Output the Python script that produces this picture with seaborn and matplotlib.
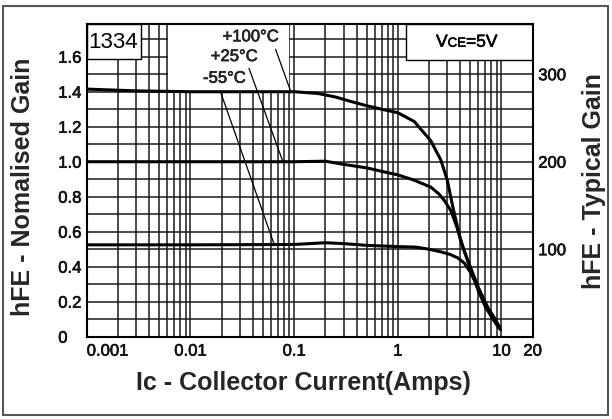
import numpy as np
import pandas as pd
import seaborn as sns
import matplotlib
matplotlib.use("Agg")
import matplotlib.pyplot as plt
import matplotlib.patheffects as pe
from matplotlib import font_manager
from matplotlib.patches import Rectangle
from matplotlib.offsetbox import TextArea, HPacker, AnnotationBbox

# ---------------- data ----------------
ic_100 = [0.001, 0.003, 0.01, 0.05, 0.1, 0.17, 0.25, 0.35, 0.5, 0.7, 1.0, 1.44, 2.08, 2.6, 3.0, 3.4, 4.0, 5.0, 6.0, 7.0, 8.5, 9.5]
hfe_100 = [1.415, 1.405, 1.40, 1.40, 1.40, 1.39, 1.37, 1.345, 1.32, 1.30, 1.28, 1.23, 1.12, 1.01, 0.895, 0.74, 0.56, 0.39, 0.26, 0.17, 0.09, 0.05]

ic_25 = [0.001, 0.01, 0.1, 0.2, 0.3, 0.5, 0.7, 1.0, 1.43, 2.08, 2.5, 2.8, 3.25, 3.7, 4.3, 5.0, 6.0, 7.5, 9.0, 9.8]
hfe_25 = [1.0, 1.0, 1.0, 1.003, 0.985, 0.965, 0.945, 0.925, 0.895, 0.855, 0.815, 0.78, 0.72, 0.63, 0.50, 0.40, 0.28, 0.15, 0.07, 0.04]

ic_m55 = [0.001, 0.01, 0.1, 0.2, 0.3, 0.5, 1.0, 1.5, 2.0, 2.6, 3.2, 3.8, 4.4, 5.0, 6.3, 7.5, 8.5, 9.8]
hfe_m55 = [0.525, 0.525, 0.527, 0.537, 0.532, 0.522, 0.515, 0.512, 0.50, 0.485, 0.47, 0.45, 0.42, 0.37, 0.25, 0.16, 0.11, 0.045]

series_names = ["+100°C", "+25°C", "-55°C"]
label_pos_x = [0.071, 0.0446, 0.0341]
label_pos_y = [1.714, 1.601, 1.477]
leader_start_x = [0.0664, 0.0367, 0.0195]
leader_start_y = [1.642, 1.534, 1.40]
leader_end_x = [0.093, 0.078, 0.064]
leader_end_y = [1.40, 1.0, 0.53]

x_ticks = [0.001, 0.01, 0.1, 1, 10, 20]
x_tick_labels = ["0.001", "0.01", "0.1", "1", "10", "20"]
y_ticks = [0, 0.2, 0.4, 0.6, 0.8, 1.0, 1.2, 1.4, 1.6]
y_tick_labels = ["0", "0.2", "0.4", "0.6", "0.8", "1.0", "1.2", "1.4", "1.6"]
y2_ticks = [100, 200, 300]
typical_per_normalised = 200

part_label = "1334"
# ---------------------------------------

sns.set_style("white")
plt.rcParams["font.family"] = ["Liberation Sans", "DejaVu Sans"]

heavy = [pe.withStroke(linewidth=0.45, foreground="#111111")]

fig = plt.figure(figsize=(6.12, 4.19), dpi=100)
ax = fig.add_axes([0.1417, 0.1964, 0.7287, 0.7463])

xmin, xmax = 0.001, 20
ymin, ymax = 0.0, 1.787

df = pd.concat([
    pd.DataFrame({"ic": ic_100, "hfe": hfe_100, "T": series_names[0]}),
    pd.DataFrame({"ic": ic_25, "hfe": hfe_25, "T": series_names[1]}),
    pd.DataFrame({"ic": ic_m55, "hfe": hfe_m55, "T": series_names[2]}),
])

ax.set_xscale("log")
sns.lineplot(data=df, x="ic", y="hfe", hue="T", palette=["black"] * 3,
             estimator=None, sort=True, legend=False, linewidth=2.2, ax=ax, zorder=4)

# ticks & grid
ax.set_xticks(x_ticks)
ax.set_xticklabels(x_tick_labels)
minor_x = [m * 10.0 ** d for d in range(-3, 1) for m in range(2, 10)]
ax.set_xticks(minor_x, minor=True)
ax.set_yticks(y_ticks)
ax.set_yticklabels(y_tick_labels)
ax.set_yticks(np.round(np.arange(0.1, 1.75, 0.2), 2), minor=True)
ax.set_xlim(xmin, xmax)
ax.set_ylim(ymin, ymax)
ax.grid(True, which="both", color="#1a1a1a", linewidth=1.1)
ax.set_axisbelow(True)
ax.tick_params(axis="both", which="both", length=0, labelsize=12, colors="#111111")
ax.tick_params(axis="x", pad=5)
ax.tick_params(axis="y", pad=20.5)
for lab in ax.get_yticklabels():
    lab.set_horizontalalignment("left")
    lab.set_path_effects(heavy)
for lab in ax.get_xticklabels():
    lab.set_path_effects(heavy)
ax.get_xticklabels()[0].set_horizontalalignment("left")

for sp in ax.spines.values():
    sp.set_color("black")
    sp.set_linewidth(1.5)
    sp.set_zorder(6)

# white boxes hiding grid
ax.add_patch(Rectangle((0.00612, 1.405), 0.0885 - 0.00612, ymax - 1.405,
                       facecolor="white", edgecolor="none", zorder=2))
ax.add_patch(Rectangle((xmin, 1.585), 0.00336 - xmin, ymax - 1.585,
                       facecolor="white", edgecolor="black", linewidth=1.0, zorder=3))
ax.add_patch(Rectangle((1.19, 1.58), xmax - 1.19, ymax - 1.58,
                       facecolor="white", edgecolor="black", linewidth=1.0, zorder=3))

names = {f.name for f in font_manager.fontManager.ttflist}
if "Liberation Sans Narrow" in names:
    part_family, part_size = "Liberation Sans Narrow", 18
else:
    part_family, part_size = "Liberation Sans", 16
ax.text(0.00181, 1.684, part_label, ha="center", va="center", fontsize=part_size,
        family=part_family, color="black", zorder=5)

# VCE label with small-caps style
vce = HPacker(children=[TextArea("V", textprops=dict(size=12.5, color="black", path_effects=heavy)),
                        TextArea("CE", textprops=dict(size=9.5, color="black", path_effects=heavy)),
                        TextArea("=5V", textprops=dict(size=12.5, color="black", path_effects=heavy))],
              align="baseline", pad=0, sep=0)
ab = AnnotationBbox(vce, (np.sqrt(1.19 * xmax) * 0.95, 1.683), frameon=False, zorder=5,
                    box_alignment=(0.5, 0.5))
ax.add_artist(ab)

# temperature labels and leader lines
for name, tx, ty, sx, sy, ex, ey in zip(series_names, label_pos_x, label_pos_y,
                                        leader_start_x, leader_start_y,
                                        leader_end_x, leader_end_y):
    ax.text(tx, ty, name, ha="right", va="center", fontsize=12, zorder=5, path_effects=heavy)
    ax.plot([sx, ex], [sy, ey], color="black", linewidth=0.9, zorder=4)

ax.set_xlabel("Ic - Collector Current(Amps)", fontsize=18, fontweight="bold", va="center")
ax.xaxis.set_label_coords(0.485, -0.148)
ax.set_ylabel("hFE - Nomalised Gain", fontsize=18, fontweight="bold", va="center")
ax.yaxis.set_label_coords(-0.143, 0.48)

ax2 = ax.twinx()
ax2.set_ylim(ymin * typical_per_normalised, ymax * typical_per_normalised)
ax2.set_yticks(y2_ticks)
ax2.set_yticklabels([str(v) for v in y2_ticks])
ax2.tick_params(axis="y", length=0, pad=4, labelsize=12, colors="#111111")
for lab in ax2.get_yticklabels():
    lab.set_path_effects(heavy)
ax2.grid(False)
for sp in ax2.spines.values():
    sp.set_visible(False)
ax2.set_ylabel("hFE - Typical Gain", fontsize=18, fontweight="bold", va="center")
ax2.yaxis.set_label_coords(1.137, 0.498)

# outer image frame
fig.patches.append(Rectangle((3 / 612, 4 / 419), 605 / 612, 409 / 419,
                             transform=fig.transFigure, facecolor="none",
                             edgecolor="#555555", linewidth=1.5))

fig.savefig("out.png", dpi=100)
